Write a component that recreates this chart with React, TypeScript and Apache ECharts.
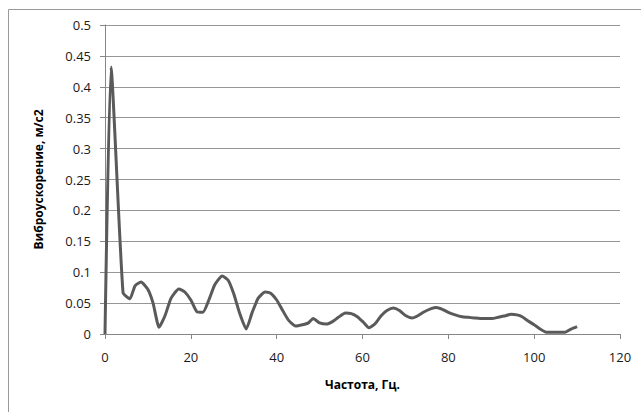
import React, { useEffect, useRef } from "react";
import * as echarts from "echarts";

const freqs = [
  0, 1.4, 4.2, 5.8, 7.0, 8.4, 10.0, 11.2, 12.6, 14.0, 15.4, 17.2, 18.6, 20.0, 21.4, 22.8,
  24.2, 25.6, 27.3, 28.7, 30.0, 31.4, 32.9, 34.3, 35.7, 37.3, 38.6, 40.0, 41.4, 42.8, 44.4,
  46.0, 47.4, 48.5, 50.0, 51.6, 53.0, 54.4, 56.0, 57.4, 58.8, 60.2, 61.5, 63.0, 64.4, 65.7,
  67.2, 68.6, 70.0, 71.6, 73.0, 74.4, 76.0, 77.2, 78.6, 80.0, 81.6, 83.2, 84.6, 86.0, 87.4,
  88.8, 90.2, 91.6, 93.0, 94.6, 96.0, 97.2, 98.6, 100.0, 101.4, 102.8, 104.2, 105.6, 107.2,
  108.6, 110.0,
];
const accel = [
  0, 0.432, 0.067, 0.057, 0.078, 0.084, 0.072, 0.05, 0.011, 0.03, 0.058, 0.073, 0.068, 0.055,
  0.036, 0.035, 0.055, 0.08, 0.094, 0.087, 0.065, 0.033, 0.008, 0.035, 0.058, 0.068, 0.066,
  0.055, 0.038, 0.022, 0.013, 0.015, 0.018, 0.025, 0.018, 0.016, 0.02, 0.027, 0.034, 0.033,
  0.028, 0.019, 0.01, 0.017, 0.03, 0.038, 0.042, 0.038, 0.03, 0.026, 0.03, 0.036, 0.041, 0.043,
  0.04, 0.035, 0.031, 0.028, 0.027, 0.026, 0.025, 0.025, 0.025, 0.027, 0.029, 0.032, 0.031,
  0.028, 0.021, 0.015, 0.008, 0.003, 0.003, 0.003, 0.003, 0.008, 0.012,
];
const xTitle = "Частота, Гц.";
const yTitle = "Виброускорение, м/с2";

export default function App() {
  const ref = useRef<HTMLDivElement>(null);
  useEffect(() => {
    if (!ref.current) return;
    const chart = echarts.init(ref.current, null, { renderer: "svg" });
    const font = "'Open Sans', 'Noto Sans', sans-serif";
    chart.setOption({
      animation: false,
      backgroundColor: "#ffffff",
      graphic: [
        {
          type: "rect",
          shape: { x: 8.5, y: 9.5, width: 700, height: 500 },
          style: { fill: "none", stroke: "#9a9a9a", lineWidth: 1 },
          silent: true,
        },
      ],
      grid: { left: 105, right: 21, top: 25, bottom: 78 },
      xAxis: {
        type: "value",
        min: 0,
        max: 120,
        interval: 20,
        name: xTitle,
        nameLocation: "middle",
        nameGap: 44,
        nameTextStyle: { fontFamily: font, fontSize: 12, fontWeight: "bold", color: "#000" },
        axisLine: { show: true, lineStyle: { color: "#868686", width: 1 } },
        axisTick: { show: true, length: 5, lineStyle: { color: "#868686" } },
        axisLabel: { fontFamily: font, fontSize: 13, color: "#1a1a1a", margin: 16 },
        splitLine: { show: false },
      },
      yAxis: {
        type: "value",
        min: 0,
        max: 0.5,
        interval: 0.05,
        name: yTitle,
        nameLocation: "middle",
        nameGap: 61,
        nameTextStyle: { fontFamily: font, fontSize: 12, fontWeight: "bold", color: "#000" },
        axisLine: { show: true, lineStyle: { color: "#868686", width: 1 } },
        axisTick: { show: true, length: 5, lineStyle: { color: "#868686" } },
        axisLabel: { fontFamily: font, fontSize: 13, color: "#1a1a1a", margin: 14 },
        splitLine: { show: true, lineStyle: { color: "#969696", width: 1 } },
      },
      series: [
        {
          type: "line",
          data: freqs.map((f, i) => [f, accel[i]]),
          showSymbol: false,
          smooth: 0.18,
          lineStyle: { color: "#5a5a5a", width: 3 },
        },
      ],
    });
    return () => chart.dispose();
  }, []);
  return (
    <div
      ref={ref}
      style={{ position: "absolute", left: 0, top: 0, width: 641, height: 412 }}
    />
  );
}
